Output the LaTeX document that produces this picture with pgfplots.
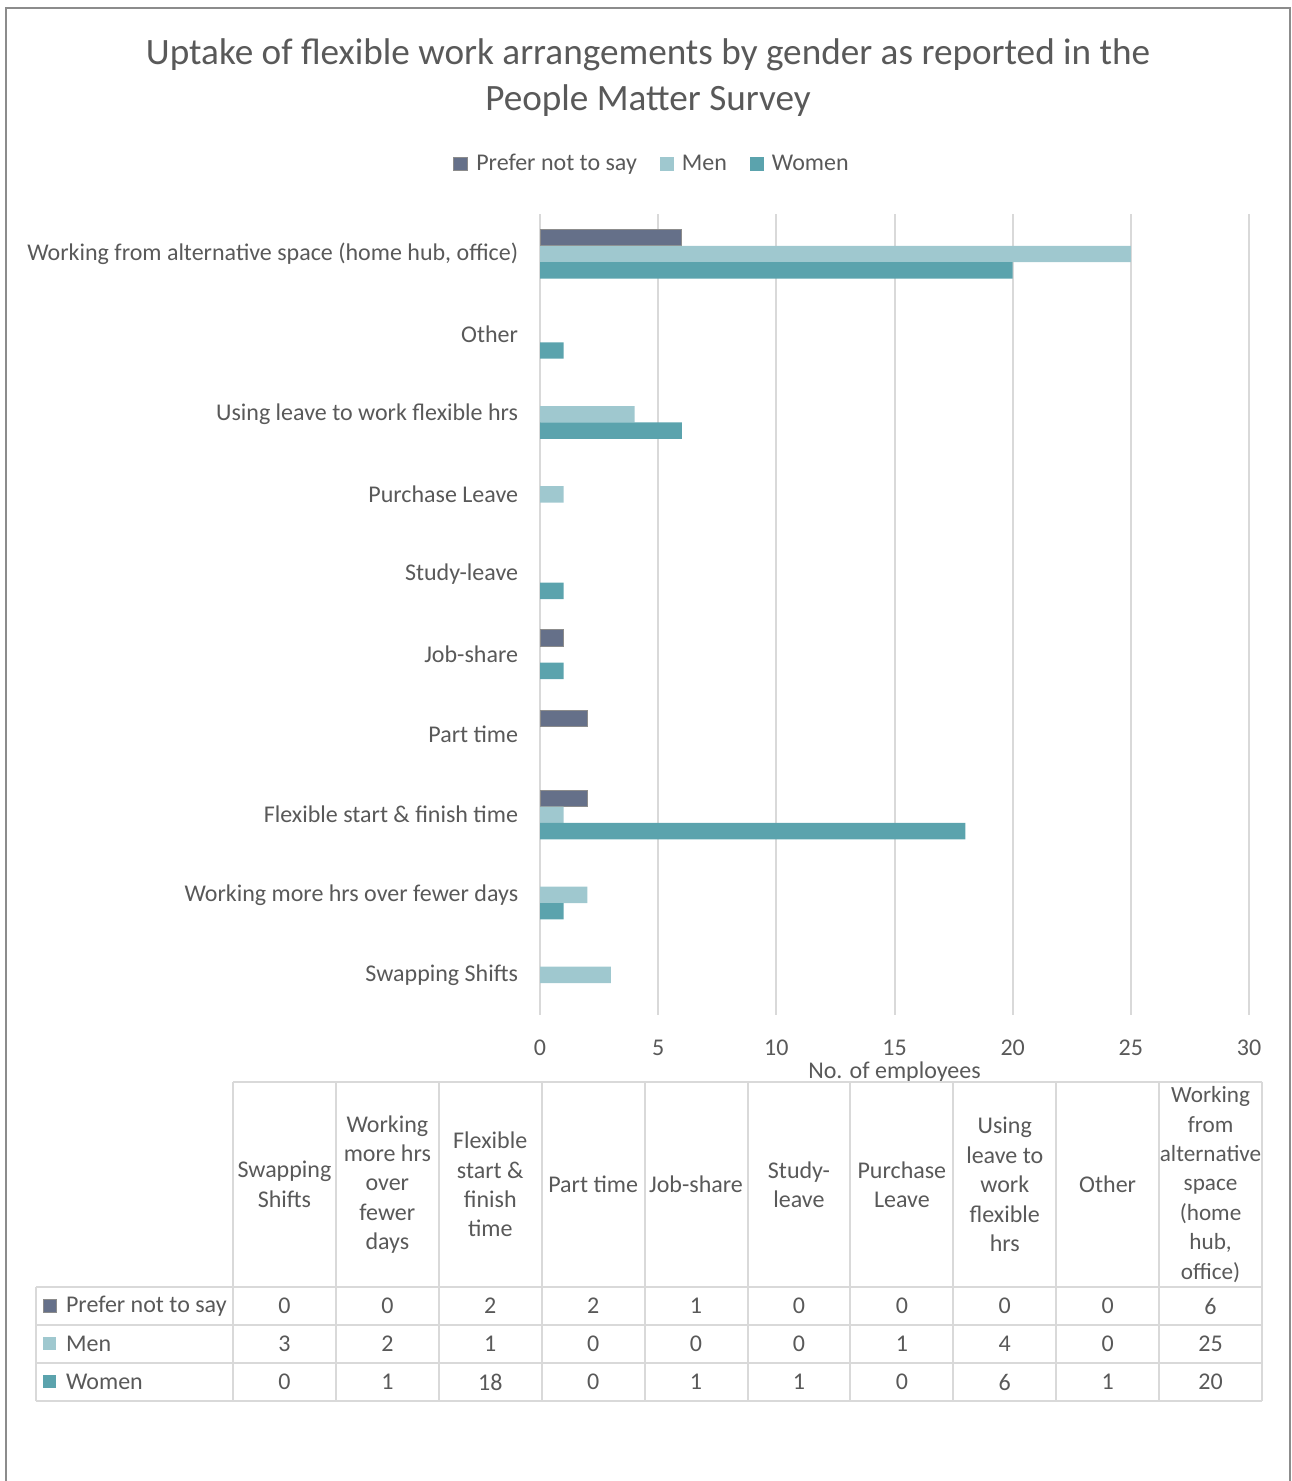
\documentclass[border=0pt]{standalone}
\usepackage{fontspec}
\setmainfont{Carlito}
\usepackage{pgfplots}
\usepackage{pgfplotstable}
\pgfplotsset{compat=1.18}
\definecolor{txt}{HTML}{595959}
\definecolor{pnc}{HTML}{657089}
\definecolor{menc}{HTML}{9FC8CF}
\definecolor{womenc}{HTML}{5BA3AD}
\definecolor{gridc}{HTML}{D9D9D9}
\definecolor{framec}{HTML}{8C8C8C}

\pgfplotstableread{
idx pn men women
0 0 3 0
1 0 2 1
2 2 1 18
3 2 0 0
4 1 0 1
5 0 0 1
6 0 1 0
7 0 4 6
8 0 0 1
9 6 25 20
}\datatable

\begin{document}
\begin{tikzpicture}
\begin{scope}[x=0.5pt,y=0.5pt]
\useasboundingbox (0,0) rectangle (1291,1481);
\draw[framec, line width=1pt] (6,-20) -- (6,1473) -- (1290,1473) -- (1290,-20);
\node[txt, align=center, font=\fontsize{18.6}{23}\selectfont] at (648,1403)
  {Uptake of flexible work arrangements by gender as reported in the\\People Matter Survey};
\end{scope}

\begin{axis}[
  at={(270pt,233pt)}, anchor=south west,
  scale only axis, width=354.5pt, height=400.5pt,
  xbar, bar width=8.2pt,
  xmin=0, xmax=30, ymin=-0.5, ymax=9.5,
  xtick={0,5,...,30}, ytick={0,...,9},
  yticklabels={Swapping Shifts, Working more hrs over fewer days, Flexible start \& finish time, Part time, Job-share, Study-leave, Purchase Leave, Using leave to work flexible hrs, Other, {Working from alternative space (home hub, office)}},
  xmajorgrids, major grid style={gridc, line width=1pt},
  axis line style={draw=none}, tick style={draw=none},
  /pgf/number format/assume math mode=true,
  ticklabel style={txt, font=\fontsize{12}{14.7}\selectfont},
  xticklabel style={anchor=center, yshift=-16.5pt},
  yticklabel style={anchor=east, inner sep=0pt, xshift=-6.5pt},
  xlabel={No. of employees},
  xlabel style={txt, font=\fontsize{12}{14.7}\selectfont, at={(axis description cs:0.5,-0.0712)}, anchor=center},
  legend style={draw=none, fill=none, legend columns=3, font=\fontsize{12}{14.7}\selectfont, text=txt,
    at={(axis description cs:0.1594,1.0624)}, anchor=center,
    /tikz/every odd column/.append style={column sep=2pt},
    /tikz/every even column/.append style={column sep=9.5pt}},
  legend image code/.code={\fill[#1] (0pt,-3.3pt) rectangle (7pt,3.3pt);},
  x filter/.expression={x==0 ? nan : x},
  unbounded coords=discard,
]
\addplot[fill=pnc, draw=framec, line width=0.5pt, bar shift=8.2pt] table[x=pn, y=idx] {\datatable};
\addplot[fill=menc, draw=none, bar shift=0pt] table[x=men, y=idx] {\datatable};
\addplot[fill=womenc, draw=none, bar shift=-8.2pt] table[x=women, y=idx] {\datatable};
\legend{Prefer not to say, Men, Women}
\end{axis}

\begin{scope}[x=0.5pt,y=0.5pt]
\begin{scope}[gridc, line width=1pt]
\draw (233,399) -- (1262,399);
\foreach \yy in {194,156,118,80} {\draw (36,\yy) -- (1262,\yy);}
\foreach \i in {0,...,10} {\draw ({233+102.9*\i},399) -- ({233+102.9*\i},80);}
\draw (36,194) -- (36,80);
\end{scope}

\begin{scope}[every node/.style={txt, font=\fontsize{12}{14.7}\selectfont, align=center}]
\node at ({233+102.9*0.5},296.5) {Swapping\\Shifts};
\node at ({233+102.9*1.5},296.5) {Working\\more hrs\\over\\fewer\\days};
\node at ({233+102.9*2.5},296.5) {Flexible\\start \&\\finish\\time};
\node at ({233+102.9*3.5},296.5) {Part time};
\node at ({233+102.9*4.5},296.5) {Job-share};
\node at ({233+102.9*5.5},296.5) {Study-\\leave};
\node at ({233+102.9*6.5},296.5) {Purchase\\Leave};
\node at ({233+102.9*7.5},296.5) {Using\\leave to\\work\\flexible\\hrs};
\node at ({233+102.9*8.5},296.5) {Other};
\node[font=\fontsize{11.6}{14.7}\selectfont] at ({233+102.9*9.5},296.5) {Working\\from\\alternative\\space\\(home\\hub,\\office)};
\node[anchor=west] at (59,175) {Prefer not to say};
\node[anchor=west] at (59,137) {Men};
\node[anchor=west] at (59,99) {Women};
\foreach \i in {0,...,9} {
  \pgfplotstablegetelem{\i}{pn}\of\datatable
  \node at ({233+102.9*(\i+0.5)},175) {\pgfplotsretval};
  \pgfplotstablegetelem{\i}{men}\of\datatable
  \node at ({233+102.9*(\i+0.5)},137) {\pgfplotsretval};
  \pgfplotstablegetelem{\i}{women}\of\datatable
  \node at ({233+102.9*(\i+0.5)},99) {\pgfplotsretval};
}
\end{scope}
\fill[pnc, draw=framec, line width=0.5pt] (43,168.5) rectangle (56,181.5);
\fill[menc] (43,130.5) rectangle (56,143.5);
\fill[womenc] (43,92.5) rectangle (56,105.5);
\end{scope}
\end{tikzpicture}
\end{document}
